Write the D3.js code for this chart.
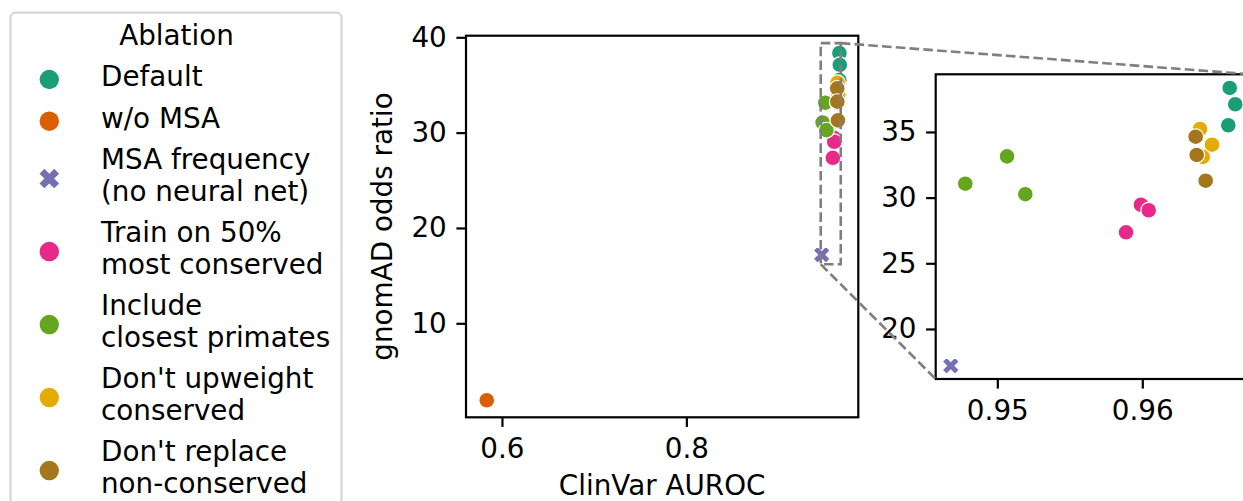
<!DOCTYPE html>
<html><head><meta charset="utf-8">
<script src="https://cdn.jsdelivr.net/npm/d3@7"></script>
<style>html,body{margin:0;padding:0;background:#fff;overflow:hidden}text{font-family:"DejaVu Sans",sans-serif;fill:#000}</style>
</head><body><svg id="c" width="1243" height="501"></svg>
<script>
const ablations = ["Default","w/o MSA","MSA frequency\n(no neural net)","Train on 50%\nmost conserved","Include\nclosest primates","Don't upweight\nconserved","Don't replace\nnon-conserved"];
const colors = ["#1b9e77","#d95f02","#7570b3","#e7298a","#66a61e","#e6ab02","#a6761d"];
const markers = ["circle","circle","x","circle","circle","circle","circle"];
const clinvarAuroc = [
  [0.96603,0.96641,0.96593],
  [0.5828,0.5835,0.5835],
  [0.94679],
  [0.95991,0.96044,0.95888],
  [0.94779,0.95067,0.95193],
  [0.96398,0.96481,0.96417],
  [0.96368,0.96375,0.96437]];
const gnomadOR = [
  [38.35,37.11,35.51],
  [1.95,1.95,1.93],
  [17.20],
  [29.46,29.04,27.36],
  [31.06,33.14,30.26],
  [35.23,34.03,33.10],
  [34.64,33.25,31.29]];
const mainXTicks = [0.6,0.8], mainYTicks = [10,20,30,40];
const insetXTicks = [0.95,0.96], insetYTicks = [20,25,30,35];
const mainXDomain = [0.561,0.9865], mainYDomain = [0.139,40.168];
const insetXDomain = [0.94575,0.96747], insetYDomain = [16.19,39.39];

const FS = 27.8, TICK = 9.6, PAD = 9.6, SPINE = 2.2;
const svg = d3.select("#c");

const main = {x0:466, x1:858.3, y0:35.7, y1:417.3};
const ins = {x0:935.7, x1:1250.6, y0:74.3, y1:379};

const mx = d3.scaleLinear().domain(mainXDomain).range([main.x0, main.x1]);
const my = d3.scaleLinear().domain(mainYDomain).range([main.y1, main.y0]);
const ix = d3.scaleLinear().domain(insetXDomain).range([ins.x0, ins.x1]);
const iy = d3.scaleLinear().domain(insetYDomain).range([ins.y1, ins.y0]);

const xSym = d3.symbol().type(d3.symbolCross).size(175);

function drawPoints(g, sx, sy, box) {
  const clipId = "clip" + Math.round(box.x0);
  svg.append("clipPath").attr("id", clipId).append("rect")
    .attr("x", box.x0).attr("y", box.y0).attr("width", box.x1 - box.x0).attr("height", box.y1 - box.y0);
  const pg = g.append("g").attr("clip-path", `url(#${clipId})`);
  ablations.forEach((name, i) => {
    clinvarAuroc[i].forEach((xv, j) => {
      const yv = gnomadOR[i][j];
      if (markers[i] === "x") {
        pg.append("path").attr("d", xSym)
          .attr("transform", `translate(${sx(xv)},${sy(yv)}) rotate(45)`)
          .attr("fill", colors[i]).attr("stroke", "#fff").attr("stroke-width", 1.0);
      } else {
        pg.append("circle").attr("cx", sx(xv)).attr("cy", sy(yv)).attr("r", 7.9)
          .attr("fill", colors[i]).attr("stroke", "#fff").attr("stroke-width", 1.2);
      }
    });
  });
}

function styleAxis(a) {
  a.select(".domain").remove();
  a.selectAll(".tick line").attr("stroke", "#000").attr("stroke-width", SPINE);
  a.selectAll(".tick text").style("font-size", FS + "px").attr("fill", "#000");
}

function frame(g, box) {
  g.append("rect").attr("x", box.x0).attr("y", box.y0).attr("width", box.x1 - box.x0).attr("height", box.y1 - box.y0)
    .attr("fill", "none").attr("stroke", "#000").attr("stroke-width", SPINE);
}

// Main axes
const gm = svg.append("g");
gm.append("rect").attr("x", main.x0).attr("y", main.y0).attr("width", main.x1 - main.x0).attr("height", main.y1 - main.y0).attr("fill", "#fff");
drawPoints(gm, mx, my, main);
const axMX = gm.append("g").attr("transform", `translate(0,${main.y1})`)
  .call(d3.axisBottom(mx).tickValues(mainXTicks).tickSize(TICK).tickPadding(PAD).tickFormat(d3.format(".1f")));
styleAxis(axMX);
axMX.selectAll(".tick text").attr("dy", "0.78em");
const axMY = gm.append("g").attr("transform", `translate(${main.x0},0)`)
  .call(d3.axisLeft(my).tickValues(mainYTicks).tickSize(TICK).tickPadding(PAD).tickFormat(d3.format("d")));
styleAxis(axMY);

// indicate inset rectangle
const dash = "9.6,4.2", gray = "#7f7f7f";
gm.append("rect")
  .attr("x", mx(insetXDomain[0])).attr("y", my(insetYDomain[1]))
  .attr("width", mx(insetXDomain[1]) - mx(insetXDomain[0]))
  .attr("height", my(insetYDomain[0]) - my(insetYDomain[1]))
  .attr("fill", "none").attr("stroke", gray).attr("stroke-width", 2.6).attr("stroke-dasharray", dash);
frame(gm, main);

gm.append("text").attr("x", (main.x0 + main.x1) / 2).attr("y", 495).attr("text-anchor", "middle")
  .style("font-size", FS + "px").text("ClinVar AUROC");
gm.append("text").attr("transform", `translate(392,${(main.y0 + main.y1) / 2}) rotate(-90)`).attr("text-anchor", "middle")
  .style("font-size", FS + "px").text("gnomAD odds ratio");

// Inset axes
const gi = svg.append("g");
gi.append("rect").attr("x", ins.x0).attr("y", ins.y0).attr("width", ins.x1 - ins.x0).attr("height", ins.y1 - ins.y0).attr("fill", "#fff");
drawPoints(gi, ix, iy, ins);
const axIX = gi.append("g").attr("transform", `translate(0,${ins.y1})`)
  .call(d3.axisBottom(ix).tickValues(insetXTicks).tickSize(TICK).tickPadding(PAD).tickFormat(d3.format(".2f")));
styleAxis(axIX);
axIX.selectAll(".tick text").attr("dy", "0.78em");
const axIY = gi.append("g").attr("transform", `translate(${ins.x0},0)`)
  .call(d3.axisLeft(iy).tickValues(insetYTicks).tickSize(TICK).tickPadding(PAD).tickFormat(d3.format("d")));
styleAxis(axIY);
frame(gi, ins);

// connectors
const conn = svg.append("g");
conn.append("line")
  .attr("x1", mx(insetXDomain[1])).attr("y1", my(insetYDomain[1]))
  .attr("x2", ins.x1).attr("y2", ins.y0)
  .attr("stroke", gray).attr("stroke-width", 2.6).attr("stroke-dasharray", dash);
conn.append("line")
  .attr("x1", mx(insetXDomain[0])).attr("y1", my(insetYDomain[0]))
  .attr("x2", ins.x0).attr("y2", ins.y1)
  .attr("stroke", gray).attr("stroke-width", 2.6).attr("stroke-dasharray", dash);

// Legend
const lg = svg.append("g");
lg.append("rect").attr("x", 10.5).attr("y", 12.7).attr("width", 331).attr("height", 520).attr("rx", 5)
  .attr("fill", "#fff").attr("stroke", "#d6d6d6").attr("stroke-width", 2.2);
lg.append("text").attr("x", 176.5).attr("y", 45).attr("text-anchor", "middle").style("font-size", FS + "px").text("Ablation");
let base = 86;
const LINE = 31.3, ROW = 41.7, MX = 49.3, TX = 101;
ablations.forEach((name, i) => {
  const lines = name.split("\n");
  const first = base, last = base + (lines.length - 1) * LINE;
  const cy = (first + last) / 2 - 6.5;
  if (markers[i] === "x") {
    lg.append("path").attr("d", d3.symbol().type(d3.symbolCross).size(240))
      .attr("transform", `translate(${MX},${cy}) rotate(45)`).attr("fill", colors[i]);
  } else {
    lg.append("circle").attr("cx", MX).attr("cy", cy).attr("r", 9.7).attr("fill", colors[i]);
  }
  lines.forEach((ln, k) => {
    lg.append("text").attr("x", TX).attr("y", first + k * LINE).style("font-size", FS + "px").text(ln);
  });
  base = last + ROW;
});
</script></body></html>
